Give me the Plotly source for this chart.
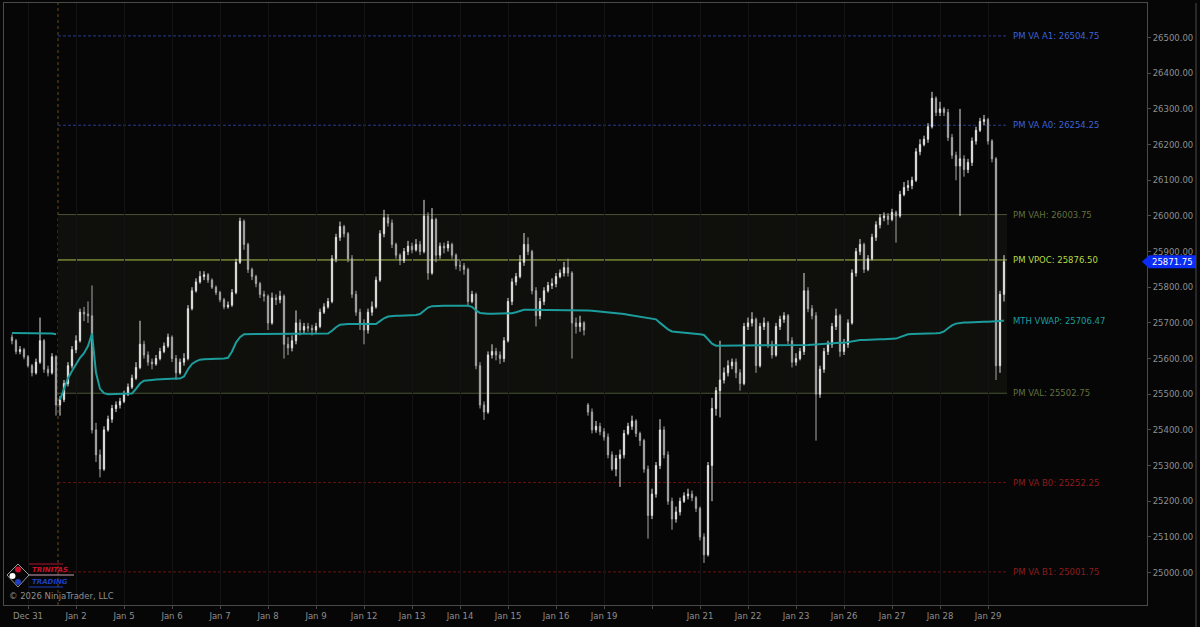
import plotly.graph_objects as go

# ---------------- data ----------------
# bars ~ every 2 hours; 12 bars per trading day
closes = [
 25650,25620,25625,25605,25580,25560,25590,25650,25570,25560,25605,25470,
 25485,25530,25580,25625,25650,25730,25725,25720,25400,25330,25290,25400,
 25430,25460,25470,25480,25500,25520,25545,25575,25640,25610,25590,25585,
 25600,25620,25635,25660,25600,25560,25590,25600,25740,25790,25815,25830,
 25835,25820,25800,25785,25765,25745,25750,25785,25870,25985,25920,25850,
 25830,25810,25780,25775,25700,25770,25765,25775,25640,25630,25650,25700,
 25680,25690,25685,25680,25690,25730,25745,25760,25880,25940,25970,25950,
 25880,25780,25730,25700,25680,25730,25745,25820,25950,25995,25980,25920,
 25890,25875,25900,25915,25905,25920,25900,26000,25840,25990,25890,25915,
 25910,25920,25890,25860,25860,25850,25760,25780,25580,25470,25450,25610,
 25620,25610,25600,25650,25760,25815,25830,25870,25920,25900,25790,25720,
 25760,25790,25805,25810,25830,25840,25855,25840,25700,25690,25700,25680,
 25450,25400,25410,25395,25380,25330,25290,25320,25330,25390,25410,25425,
 25390,25370,25290,25160,25220,25300,25400,25330,25200,25150,25170,25200,
 25215,25220,25210,25180,25100,25050,25300,25460,25510,25540,25560,25580,
 25590,25560,25530,25690,25700,25710,25580,25690,25700,25640,25610,25690,
 25710,25720,25650,25590,25600,25620,25790,25740,25720,25500,25570,25620,
 25640,25690,25720,25620,25640,25700,25840,25900,25920,25850,25880,25940,
 25975,25995,26000,25990,26010,26000,26060,26080,26085,26100,26180,26200,
 26215,26250,26330,26290,26300,26290,26220,26170,26140,26160,26130,26150,
 26210,26240,26265,26270,26210,26160,25580,25780,25871.75,
]
highs = [
 25668,25655,25635,25630,25610,25585,25600,25715,25655,25580,25615,25610,
 25495,25540,25590,25635,25665,25740,25745,25760,25805,25420,25345,25410,
 25440,25470,25480,25490,25510,25530,25555,25590,25706,25650,25620,25600,
 25610,25630,25645,25670,25665,25610,25600,25615,25750,25800,25825,25845,
 25845,25840,25825,25805,25790,25770,25760,25795,25880,25995,25990,25925,
 25855,25835,25815,25790,25780,25785,25780,25790,25780,25660,25665,25735,
 25710,25700,25700,25695,25700,25740,25755,25770,25890,25950,25984,25975,
 25955,25890,25790,25740,25710,25740,25760,25830,25960,26017,26005,25990,
 25925,25895,25910,25930,25925,25935,25930,26045,26010,26022,25995,25925,
 25925,25930,25925,25895,25875,25868,25855,25790,25785,25590,25480,25620,
 25640,25630,25620,25660,25770,25825,25840,25890,25952,25940,25905,25800,
 25770,25800,25815,25825,25840,25850,25871,25880,25845,25715,25720,25705,
 25475,25460,25425,25420,25405,25390,25340,25330,25345,25400,25420,25440,
 25430,25395,25375,25300,25235,25310,25430,25410,25340,25210,25185,25210,
 25225,25235,25230,25215,25185,25110,25310,25490,25520,25650,25575,25595,
 25600,25600,25570,25700,25715,25730,25715,25700,25715,25705,25650,25700,
 25720,25730,25725,25660,25615,25630,25840,25800,25750,25730,25580,25630,
 25650,25700,25740,25725,25655,25710,25850,25910,25935,25925,25890,25950,
 25985,26005,26010,26008,26020,26015,26070,26095,26100,26110,26190,26215,
 26225,26260,26348,26335,26320,26305,26300,26230,26180,26300,26170,26160,
 26220,26250,26275,26283,26275,26215,26165,25790,25890,
]
lows = [
 25640,25612,25612,25598,25575,25550,25555,25585,25560,25550,25555,25440,
 25440,25478,25522,25572,25615,25645,25705,25700,25390,25310,25267,25285,
 25395,25420,25450,25460,25475,25495,25515,25540,25570,25600,25580,25570,
 25580,25595,25615,25630,25590,25540,25555,25580,25595,25735,25785,25810,
 25820,25812,25795,25778,25758,25738,25740,25745,25780,25865,25905,25840,
 25820,25800,25770,25760,25680,25695,25750,25755,25600,25610,25620,25640,
 25665,25670,25675,25665,25672,25685,25725,25740,25755,25870,25930,25940,
 25870,25770,25720,25680,25640,25670,25720,25740,25815,25940,25970,25910,
 25880,25862,25868,25890,25895,25900,25890,25895,25821,25835,25870,25880,
 25895,25900,25880,25850,25845,25835,25750,25755,25570,25460,25428,25445,
 25600,25595,25585,25590,25645,25750,25805,25825,25860,25890,25780,25690,
 25710,25750,25785,25795,25800,25825,25830,25830,25600,25670,25675,25665,
 25440,25390,25392,25385,25370,25320,25285,25270,25240,25320,25385,25400,
 25380,25355,25280,25095,25150,25210,25290,25320,25190,25120,25140,25160,
 25195,25205,25200,25170,25090,25027,25045,25200,25440,25435,25530,25550,
 25570,25545,25510,25525,25680,25690,25560,25575,25680,25630,25600,25605,
 25680,25700,25640,25575,25580,25595,25610,25730,25710,25370,25490,25560,
 25610,25630,25680,25605,25610,25630,25695,25830,25890,25840,25845,25875,
 25930,25965,25985,25975,25985,25925,25995,26055,26070,26075,26095,26170,
 26195,26205,26245,26280,26280,26280,26210,26160,26100,26000,26110,26120,
 26140,26200,26235,26255,26200,26150,25540,25560,25760,
]
# opening price of the first bar of each session that starts after a gap
session_opens = {0: 25660, 144: 25470}

# monthly VWAP (December, then January)
vwap_dec = [25672]*10 + [25670, 25668]
vwap_jan = [
 25485,25515,25545,25565,25585,25602,25615,25635,25670,25560,25515,25503,
 25500,25500,25500,25500,25500,25500,25502,25515,25530,25538,25540,25540,
 25541,25542,25543,25544,25544,25544,25544,25550,25570,25585,25592,25597,
 25598,25598,25598,25600,25600,25600,25602,25620,25645,25660,25668,25669,
 25669,25669,25669,25669,25669,25669,25669,25669,25669,25669,25669,25669,
 25669,25669,25669,25669,25669,25669,25669,25670,25678,25688,25695,25697,
 25697,25697,25697,25697,25697,25697,25697,25697,25705,25713,25718,25720,
 25720,25720,25720,25721,25721,25722,25725,25735,25743,25747,25748,25748,
 25748,25748,25748,25748,25748,25748,25748,25745,25735,25728,25726,25726,
 25726,25726,25726,25726,25726,25727,25730,25734,25737,25737,25737,25737,
 25737,25737,25737,25737,25737,25737,25737,25737,25737,25737,25737,25735,
 25735,25734,25733,25732,25731,25730,25729,25727,25726,25725,25723,25721,
 25719,25717,25715,25713,25712,25710,25700,25690,25682,25676,25675,25675,
 25674,25673,25672,25670,25668,25666,25655,25642,25636,25636,25636,25636,
 25636,25636,25636,25636,25636,25636,25636,25636,25636,25636,25636,25636,
 25636,25636,25636,25636,25636,25636,25637,25638,25639,25640,25641,25642,
 25643,25644,25644,25644,25644,25646,25650,25652,25652,25652,25653,25653,
 25653,25654,25654,25655,25655,25656,25660,25665,25668,25669,25669,25669,
 25669,25670,25670,25671,25672,25676,25685,25693,25698,25700,25701,25701,
 25702,25702,25702,25703,25703,25703,25704,25705,25706.47,
]

day_labels = ["Dec 31", "Jan 2", "Jan 5", "Jan 6", "Jan 7", "Jan 8", "Jan 9",
              "Jan 12", "Jan 13", "Jan 14", "Jan 15", "Jan 16", "Jan 19", "",
              "Jan 21", "Jan 22", "Jan 23", "Jan 26", "Jan 27", "Jan 28", "Jan 29"]
bars_per_day = 12
first_tick_bar = 4

level_names = ["PM VA A1", "PM VA A0", "PM VAH", "PM VPOC", "PM VAL", "PM VA B0", "PM VA B1"]
level_values = [26504.75, 26254.25, 26003.75, 25876.50, 25502.75, 25252.25, 25001.75]
vwap_label_value = 25706.47
last_price = 25871.75

# ---------------- styling ----------------
BG = "#060606"
FONT = "DejaVu Sans"
level_line_col = ["#2b3a8c", "#2b3a8c", "#4a5234", "#a9c44c", "#4a5234", "#6a1212", "#6a1212"]
level_line_dash = ["3px,2px", "3px,2px", "solid", "solid", "solid", "3px,2px", "3px,2px"]
level_text_col = ["#3d63d6", "#3d63d6", "#63703f", "#b7db45", "#63703f", "#8d1c1c", "#8d1c1c"]
VWAP_COL = "#1c9c9c"

n = len(closes)
xs = list(range(n))
opens = []
for i in range(n):
    opens.append(session_opens[i] if i in session_opens else closes[i - 1])

jan_start = len(vwap_dec)
month_line_x = jan_start - 0.5
level_x0 = month_line_x
level_x1 = n - 1 + 0.75
label_x = n - 1 + 1.75

YMIN, YMAX = 24909, 26597
XMIN, XMAX = -2, 283.75

# plot area in pixels: x 4..1147, y 3..605
PL, PR, PT, PB = 4, 1147, 3, 605
def px(xp):
    return (xp - PL) / (PR - PL)
def py(yp):
    return (PB - yp) / (PB - PT)
def pv(v):
    return (v - YMIN) / (YMAX - YMIN)

fig = go.Figure()

# December VWAP
fig.add_trace(go.Scatter(x=xs[:jan_start], y=vwap_dec, mode="lines",
                         line=dict(color=VWAP_COL, width=2), hoverinfo="skip"))
# January VWAP
fig.add_trace(go.Scatter(x=xs[jan_start:], y=vwap_jan, mode="lines",
                         line=dict(color=VWAP_COL, width=2), hoverinfo="skip"))

fig.add_trace(go.Candlestick(
    x=xs, open=opens, high=highs, low=lows, close=closes,
    increasing=dict(line=dict(color="#e2e2e2", width=1), fillcolor="#e2e2e2"),
    decreasing=dict(line=dict(color="#a8a8a8", width=1), fillcolor="#8a8a8a"),
    whiskerwidth=0, hoverinfo="skip",
))

shapes = []
# value-area box
shapes.append(dict(type="rect", xref="x", yref="y", x0=level_x0, x1=level_x1,
                   y0=level_values[4], y1=level_values[2],
                   fillcolor="#0f100b", line=dict(width=0), layer="below"))
# month start line
shapes.append(dict(type="line", xref="x", yref="paper", x0=month_line_x, x1=month_line_x,
                   y0=0, y1=1, line=dict(color="#6b4a18", width=1, dash="dot"), layer="below"))
# level lines
for v, c, d in zip(level_values, level_line_col, level_line_dash):
    shapes.append(dict(type="line", xref="x", yref="y", x0=level_x0, x1=level_x1,
                       y0=v, y1=v, line=dict(color=c, width=1, dash=d), layer="below"))

# price badge arrow
yb = pv(last_price)
hh = 6.5 / (PB - PT)
shapes.append(dict(type="path", xref="paper", yref="paper",
                   path=f"M {px(1142)},{yb} L {px(1149)},{yb+hh} L {px(1196)},{yb+hh} L {px(1196)},{yb-hh} L {px(1149)},{yb-hh} Z",
                   fillcolor="#0b2cf5", line=dict(width=0), layer="above"))
# outer right border
shapes.append(dict(type="line", xref="paper", yref="paper", x0=px(1196), x1=px(1196),
                   y0=py(627), y1=py(3), line=dict(color="#4a4a4a", width=1)))

# logo (Trinitas Trading)
shapes.append(dict(type="path", xref="paper", yref="paper",
                   path=f"M {px(7)},{py(575)} L {px(18)},{py(564)} L {px(29)},{py(575)} L {px(18)},{py(587)} Z",
                   line=dict(color="#9a9a9a", width=1), fillcolor="rgba(0,0,0,0)"))
for cx, cy, col in [(18, 569.5, "#c8102e"), (12.5, 576, "#ffffff"), (18, 582, "#1f3fbf")]:
    shapes.append(dict(type="circle", xref="paper", yref="paper",
                       x0=px(cx - 3), x1=px(cx + 3), y0=py(cy + 3), y1=py(cy - 3),
                       fillcolor=col, line=dict(width=0)))
shapes.append(dict(type="line", xref="paper", yref="paper", x0=px(29), x1=px(63),
                   y0=py(564), y1=py(564), line=dict(color="#b01030", width=1)))
shapes.append(dict(type="line", xref="paper", yref="paper", x0=px(29), x1=px(74),
                   y0=py(575), y1=py(575), line=dict(color="#c9a0b8", width=1)))
shapes.append(dict(type="line", xref="paper", yref="paper", x0=px(29), x1=px(63),
                   y0=py(587), y1=py(587), line=dict(color="#1f3fbf", width=1)))

annotations = []
for name, v, c in zip(level_names, level_values, level_text_col):
    annotations.append(dict(x=label_x, y=v, xref="x", yref="y", xanchor="left", yanchor="middle",
                            text=f"{name}: {v:.2f}", showarrow=False,
                            font=dict(family=FONT, size=8.5, color=c)))
annotations.append(dict(x=label_x, y=vwap_label_value, xref="x", yref="y", xanchor="left",
                        yanchor="middle", text=f"MTH VWAP: {vwap_label_value:.2f}", showarrow=False,
                        font=dict(family=FONT, size=8.5, color=VWAP_COL)))
annotations.append(dict(x=px(1172), y=yb, xref="paper", yref="paper", xanchor="center",
                        yanchor="middle", text=f"{last_price:.2f}", showarrow=False,
                        font=dict(family=FONT, size=8.5, color="#ffffff")))
annotations.append(dict(x=px(30), y=py(570), xref="paper", yref="paper", xanchor="left",
                        yanchor="middle", text="<b><i>TRINITAS</i></b>", showarrow=False,
                        font=dict(family=FONT, size=7, color="#c8102e")))
annotations.append(dict(x=px(30), y=py(581.5), xref="paper", yref="paper", xanchor="left",
                        yanchor="middle", text="<b><i>TRADING</i></b>", showarrow=False,
                        font=dict(family=FONT, size=7, color="#1f3fbf")))
annotations.append(dict(x=px(7), y=py(596), xref="paper", yref="paper", xanchor="left",
                        yanchor="middle", text="© 2026 NinjaTrader, LLC", showarrow=False,
                        font=dict(family=FONT, size=8.5, color="#8e8e8e")))

tick_bars = [first_tick_bar + bars_per_day * k for k in range(len(day_labels))]
yticks = list(range(25000, 26501, 100))

fig.update_layout(
    width=1200, height=627,
    margin=dict(l=PL, r=1200 - PR, t=PT, b=627 - PB, autoexpand=False),
    paper_bgcolor=BG, plot_bgcolor=BG,
    showlegend=False, boxgap=0.55,
    shapes=shapes, annotations=annotations,
    font=dict(family=FONT, size=8.5, color="#8e8e8e"),
    xaxis=dict(range=[XMIN, XMAX], tickvals=tick_bars, ticktext=day_labels,
               showgrid=True, gridcolor="#131313", gridwidth=1, zeroline=False,
               ticks="outside", ticklen=3, tickcolor="#4a4a4a",
               showline=True, linecolor="#4a4a4a", mirror=True,
               rangeslider=dict(visible=False), fixedrange=True,
               tickfont=dict(family=FONT, size=8.5, color="#8e8e8e")),
    yaxis=dict(range=[YMIN, YMAX], side="right", tickvals=yticks,
               ticktext=[f"{t:.2f}" for t in yticks],
               showgrid=False, zeroline=False, fixedrange=True,
               ticks="outside", ticklen=3, tickcolor="#4a4a4a",
               showline=True, linecolor="#4a4a4a", mirror=True,
               tickfont=dict(family=FONT, size=8.5, color="#8e8e8e")),
)

fig.write_html("out.html", config={"displayModeBar": False},
               post_script="document.body.style.margin='0px';document.body.style.background='#060606';")
